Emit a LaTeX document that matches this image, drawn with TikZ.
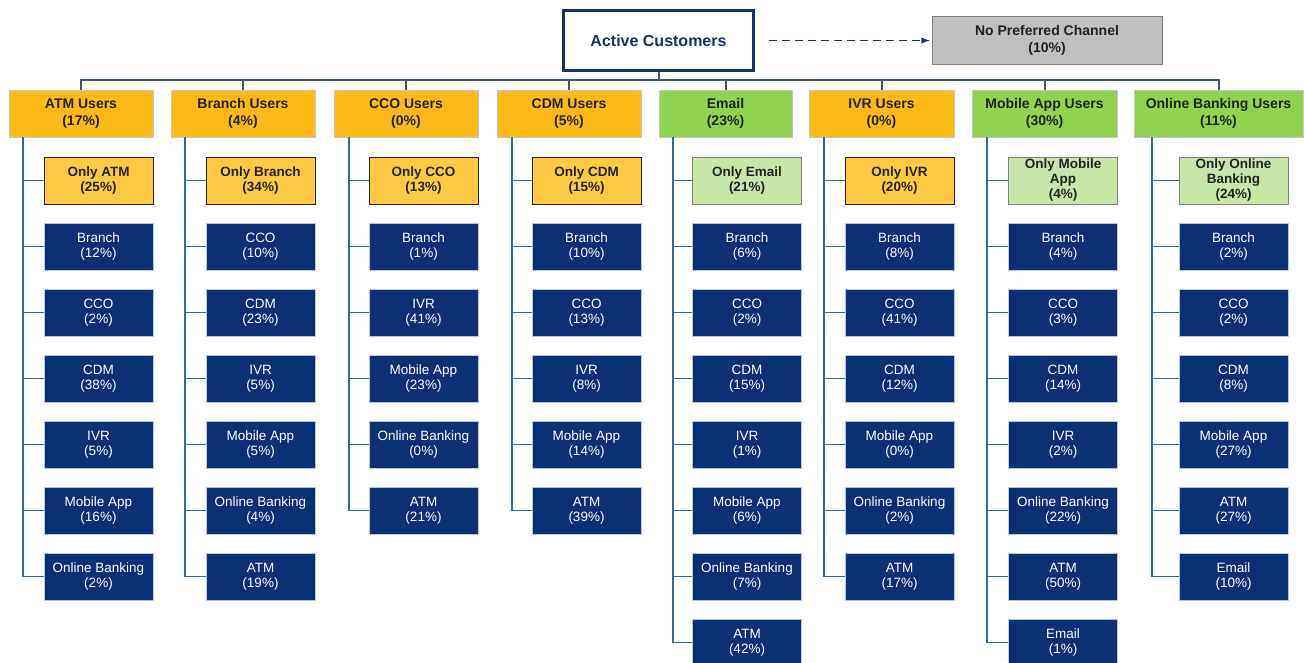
\documentclass[tikz,border=0pt]{standalone}
\usepackage{fontspec}
\setmainfont{Liberation Sans}
\usetikzlibrary{positioning}

\definecolor{navyfill}{RGB}{12,48,118}
\definecolor{navyline}{RGB}{26,48,104}
\definecolor{catorange}{RGB}{253,185,22}
\definecolor{onlyorange}{RGB}{255,202,66}
\definecolor{catgreen}{RGB}{146,208,80}
\definecolor{onlygreen}{RGB}{200,230,168}
\definecolor{busblue}{RGB}{58,90,120}
\definecolor{linkblue}{RGB}{48,108,145}
\definecolor{textdark}{RGB}{35,35,35}
\definecolor{paleedge}{RGB}{200,200,200}
\definecolor{kidedge}{RGB}{190,198,212}
\definecolor{greyfill}{RGB}{191,191,191}

\begin{document}
\begin{tikzpicture}[x=1pt, y=-1pt, node distance=66pt, on grid,
    channel/.style={draw=paleedge, line width=0.8pt, fill=catorange, text=textdark,
      minimum width=144pt, minimum height=47pt, inner sep=0pt, align=center,
      font=\fontsize{14}{17}\selectfont\bfseries},
    greenchannel/.style={channel, fill=catgreen},
    kid/.style={draw=kidedge, line width=1pt, fill=navyfill, text=white,
      minimum width=109pt, minimum height=47pt, inner sep=0pt, align=center,
      font=\fontsize{13.5}{15}\selectfont},
    onlybox/.style={kid, draw=textdark, fill=onlyorange, text=textdark,
      font=\fontsize{13.5}{15}\selectfont\bfseries},
    greenonly/.style={onlybox, draw=gray, fill=onlygreen},
    bus/.style={draw=busblue, line width=2pt, to path={-| (\tikztotarget)}},
    link/.style={draw=linkblue, line width=1.8pt, to path={|- (\tikztotarget)}}]
\useasboundingbox (0,0) rectangle (1304,662);

\node[draw=navyline, line width=3pt, fill=white, text=navyline, minimum width=190pt,
  minimum height=60pt, font=\fontsize{16}{19}\selectfont\bfseries] (active) at (658.5,40.5) {Active Customers};
\node[draw=gray, line width=0.8pt, fill=greyfill, text=textdark, minimum width=230pt,
  minimum height=48pt, inner sep=0pt, align=center, font=\fontsize{14}{17}\selectfont\bfseries]
  (none) [right=388.5pt of active] {No Preferred Channel\\(10\%)};
\draw[navyline, line width=1.8pt, dash pattern=on 8pt off 5pt, -latex, shorten <=14pt, shorten >=2pt]
  (active) -- (none);

\node[channel] (atm) at (81,113.5) {ATM Users\\(17\%)};
\node[channel] (branch) at (243,113.5) {Branch Users\\(4\%)};
\node[channel] (cco) at (406,113.5) {CCO Users\\(0\%)};
\node[channel] (cdm) at (569,113.5) {CDM Users\\(5\%)};
\node[greenchannel, minimum width=133pt] (email) at (725.5,113.5) {Email\\(23\%)};
\node[channel, minimum width=145pt] (ivr) at (881.5,113.5) {IVR Users\\(0\%)};
\node[greenchannel, minimum width=145pt] (mobile) at (1044.5,113.5) {Mobile App Users\\(30\%)};
\node[greenchannel, minimum width=169pt] (online) at (1218.5,113.5) {Online Banking Users\\(11\%)};

\coordinate (hub) at ([yshift=-8pt]active.south);
\draw[bus] (active) -- (hub);
\path[bus] (hub) edge (atm) edge (branch) edge (cco) edge (cdm)
  edge (email) edge (ivr) edge (mobile) edge (online);

\node[onlybox] (atm1) [below right=67pt and 17.5pt of atm] {Only ATM\\(25\%)};
\node[kid] (atm2) [below=of atm1] {Branch\\(12\%)};
\node[kid] (atm3) [below=of atm2] {CCO\\(2\%)};
\node[kid] (atm4) [below=of atm3] {CDM\\(38\%)};
\node[kid] (atm5) [below=of atm4] {IVR\\(5\%)};
\node[kid] (atm6) [below=of atm5] {Mobile App\\(16\%)};
\node[kid] (atm7) [below=of atm6] {Online Banking\\(2\%)};

\node[onlybox] (branch1) [below right=67pt and 17.5pt of branch] {Only Branch\\(34\%)};
\node[kid] (branch2) [below=of branch1] {CCO\\(10\%)};
\node[kid] (branch3) [below=of branch2] {CDM\\(23\%)};
\node[kid] (branch4) [below=of branch3] {IVR\\(5\%)};
\node[kid] (branch5) [below=of branch4] {Mobile App\\(5\%)};
\node[kid] (branch6) [below=of branch5] {Online Banking\\(4\%)};
\node[kid] (branch7) [below=of branch6] {ATM\\(19\%)};

\node[onlybox] (cco1) [below right=67pt and 17.5pt of cco] {Only CCO\\(13\%)};
\node[kid] (cco2) [below=of cco1] {Branch\\(1\%)};
\node[kid] (cco3) [below=of cco2] {IVR\\(41\%)};
\node[kid] (cco4) [below=of cco3] {Mobile App\\(23\%)};
\node[kid] (cco5) [below=of cco4] {Online Banking\\(0\%)};
\node[kid] (cco6) [below=of cco5] {ATM\\(21\%)};

\node[onlybox] (cdm1) [below right=67pt and 17.5pt of cdm] {Only CDM\\(15\%)};
\node[kid] (cdm2) [below=of cdm1] {Branch\\(10\%)};
\node[kid] (cdm3) [below=of cdm2] {CCO\\(13\%)};
\node[kid] (cdm4) [below=of cdm3] {IVR\\(8\%)};
\node[kid] (cdm5) [below=of cdm4] {Mobile App\\(14\%)};
\node[kid] (cdm6) [below=of cdm5] {ATM\\(39\%)};

\node[greenonly] (email1) [below right=67pt and 21.5pt of email] {Only Email\\(21\%)};
\node[kid] (email2) [below=of email1] {Branch\\(6\%)};
\node[kid] (email3) [below=of email2] {CCO\\(2\%)};
\node[kid] (email4) [below=of email3] {CDM\\(15\%)};
\node[kid] (email5) [below=of email4] {IVR\\(1\%)};
\node[kid] (email6) [below=of email5] {Mobile App\\(6\%)};
\node[kid] (email7) [below=of email6] {Online Banking\\(7\%)};
\node[kid] (email8) [below=of email7] {ATM\\(42\%)};

\node[onlybox] (ivr1) [below right=67pt and 18pt of ivr] {Only IVR\\(20\%)};
\node[kid] (ivr2) [below=of ivr1] {Branch\\(8\%)};
\node[kid] (ivr3) [below=of ivr2] {CCO\\(41\%)};
\node[kid] (ivr4) [below=of ivr3] {CDM\\(12\%)};
\node[kid] (ivr5) [below=of ivr4] {Mobile App\\(0\%)};
\node[kid] (ivr6) [below=of ivr5] {Online Banking\\(2\%)};
\node[kid] (ivr7) [below=of ivr6] {ATM\\(17\%)};

\node[greenonly] (mobile1) [below right=67pt and 18.5pt of mobile] {Only Mobile\\App\\(4\%)};
\node[kid] (mobile2) [below=of mobile1] {Branch\\(4\%)};
\node[kid] (mobile3) [below=of mobile2] {CCO\\(3\%)};
\node[kid] (mobile4) [below=of mobile3] {CDM\\(14\%)};
\node[kid] (mobile5) [below=of mobile4] {IVR\\(2\%)};
\node[kid] (mobile6) [below=of mobile5] {Online Banking\\(22\%)};
\node[kid] (mobile7) [below=of mobile6] {ATM\\(50\%)};
\node[kid] (mobile8) [below=of mobile7] {Email\\(1\%)};

\node[greenonly] (online1) [below right=67pt and 15pt of online] {Only Online\\Banking\\(24\%)};
\node[kid] (online2) [below=of online1] {Branch\\(2\%)};
\node[kid] (online3) [below=of online2] {CCO\\(2\%)};
\node[kid] (online4) [below=of online3] {CDM\\(8\%)};
\node[kid] (online5) [below=of online4] {Mobile App\\(27\%)};
\node[kid] (online6) [below=of online5] {ATM\\(27\%)};
\node[kid] (online7) [below=of online6] {Email\\(10\%)};

\coordinate (atm-top) at ([xshift=14pt]atm.south west);
\coordinate (branch-top) at ([xshift=14pt]branch.south west);
\coordinate (cco-top) at ([xshift=15pt]cco.south west);
\coordinate (cdm-top) at ([xshift=15pt]cdm.south west);
\coordinate (email-top) at ([xshift=14pt]email.south west);
\coordinate (ivr-top) at ([xshift=15pt]ivr.south west);
\coordinate (mobile-top) at ([xshift=15pt]mobile.south west);
\coordinate (online-top) at ([xshift=18pt]online.south west);

\path[link] (atm-top) edge (atm1) edge (atm2) edge (atm3) edge (atm4)
  edge (atm5) edge (atm6) edge (atm7);
\path[link] (branch-top) edge (branch1) edge (branch2) edge (branch3) edge (branch4)
  edge (branch5) edge (branch6) edge (branch7);
\path[link] (cco-top) edge (cco1) edge (cco2) edge (cco3) edge (cco4)
  edge (cco5) edge (cco6);
\path[link] (cdm-top) edge (cdm1) edge (cdm2) edge (cdm3) edge (cdm4)
  edge (cdm5) edge (cdm6);
\path[link] (email-top) edge (email1) edge (email2) edge (email3) edge (email4)
  edge (email5) edge (email6) edge (email7) edge (email8);
\path[link] (ivr-top) edge (ivr1) edge (ivr2) edge (ivr3) edge (ivr4)
  edge (ivr5) edge (ivr6) edge (ivr7);
\path[link] (mobile-top) edge (mobile1) edge (mobile2) edge (mobile3) edge (mobile4)
  edge (mobile5) edge (mobile6) edge (mobile7) edge (mobile8);
\path[link] (online-top) edge (online1) edge (online2) edge (online3) edge (online4)
  edge (online5) edge (online6) edge (online7);
\end{tikzpicture}
\end{document}
